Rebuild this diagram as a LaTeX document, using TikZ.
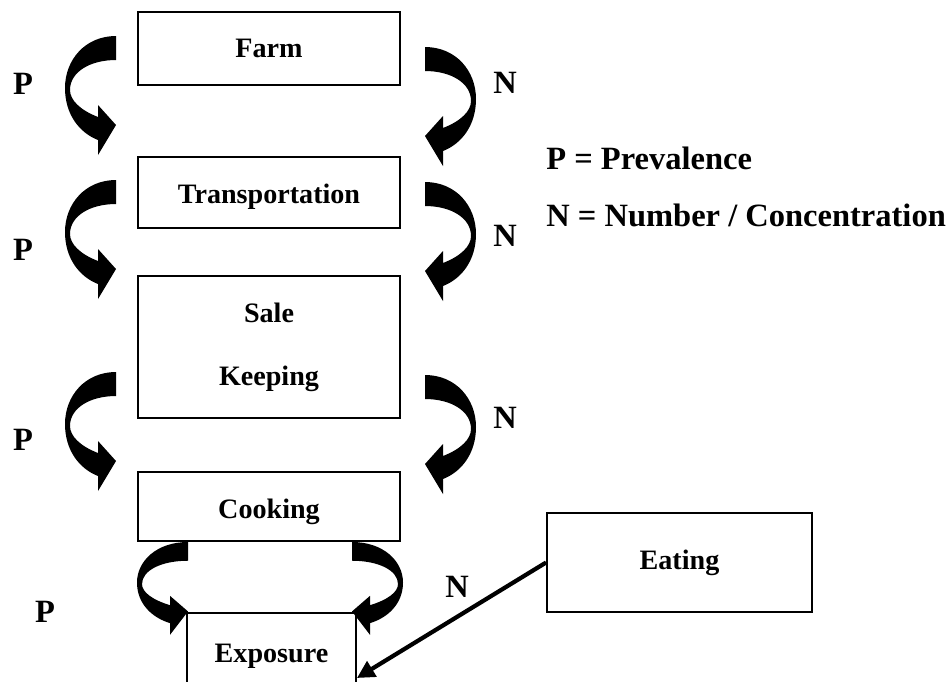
\documentclass[tikz,border=0pt]{standalone}
\usepackage{fontspec}
\setmainfont{Liberation Serif}
\usetikzlibrary{arrows.meta}

\tikzset{
  every node/.style={font=\fontsize{16}{19}\selectfont\bfseries},
  stage/.style={draw, line width=1.1pt, rectangle, inner sep=0pt, minimum width=5.24cm},
  lbl/.style={inner sep=0pt, font=\fontsize{18.5}{22}\selectfont\bfseries},
  bend/.pic={
    \fill (0,0) .. controls (-31,0) and (-51,24) .. (-51,52)
      .. controls (-51,79) and (-36,97) .. (-18,104)
      -- (-18,119) -- (0,89) -- (-18,69) -- (-18,81)
      .. controls (-36,74) and (-46,64) .. (-46,54)
      .. controls (-46,36) and (-26,24) .. (0,24) -- cycle;
  }
}

\begin{document}
\begin{tikzpicture}[x=0.02cm, y=-0.02cm]
\useasboundingbox (0,0) rectangle (950,681);
\clip (0,0) rectangle (950,681);

% stages
\node[stage, minimum height=1.46cm] (farm) at (269,48.5) {Farm};
\node[stage, minimum height=1.42cm, text height=16pt] (transport) at (269,192.5) {Transportation};
\node[stage, minimum height=2.84cm, align=center] (sale) at (269,347) {Sale\\[17pt]Keeping};
\node[stage, minimum height=1.38cm, text height=17pt] (cooking) at (269,506.5) {Cooking};
\node[stage, minimum width=3.38cm, minimum height=1.68cm, text height=12pt] (exposure) at (271.5,655) {Exposure};
\node[stage, minimum width=5.3cm, minimum height=1.98cm] (eating) at (679.5,562.5) {Eating};

% P side
\pic at (116,36) {bend};
\pic at (116,180) {bend};
\pic at (116,372) {bend};
\pic[yscale=0.78] at (188,542) {bend};

% N side
\pic[xscale=-1] at (425,47) {bend};
\pic[xscale=-1] at (425,182) {bend};
\pic[xscale=-1] at (425,375) {bend};
\pic[xscale=-1, yscale=0.78] at (352,542) {bend};

\node[lbl] (p1) at (23,84) {P};
\node[lbl] (p2) at (23,250) {P};
\node[lbl] (p3) at (23,440) {P};
\node[lbl] (p4) at (45,612) {P};
\node[lbl] (n1) at (505,83) {N};
\node[lbl] (n2) at (505,236) {N};
\node[lbl] (n3) at (505,418) {N};
\node[lbl] (n4) at (457,587) {N};

% legend
\node[lbl, anchor=west] (legp) at (546,158) {P = Prevalence};
\node[lbl, anchor=west] (legn) at (546,215) {N = Number / Concentration};

\draw[line width=2.4pt, -{Triangle[length=10pt, width=10pt]}] (eating.west) -- ([yshift=-0.46cm]exposure.east);
\end{tikzpicture}
\end{document}
